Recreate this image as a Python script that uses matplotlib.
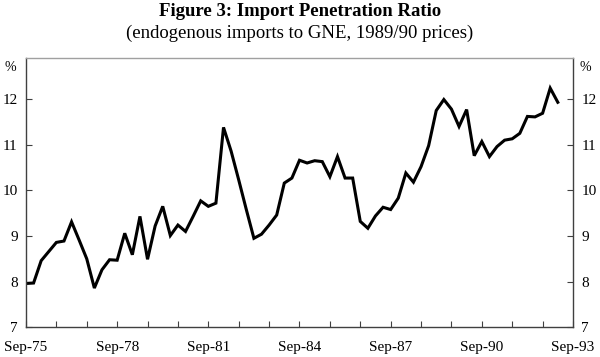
import numpy as np
import matplotlib.pyplot as plt
import matplotlib.ticker as mticker

# quarterly, Sep-75 .. Mar-93
quarters = np.arange(71)
ratio = [7.96, 7.97, 8.46, 8.66, 8.86, 8.89, 9.31, 8.91, 8.50, 7.86,
         8.26, 8.48, 8.47, 9.06, 8.59, 9.43, 8.49, 9.22, 9.65, 9.01,
         9.24, 9.10, 9.43, 9.77, 9.65, 9.72, 11.38, 10.86, 10.23, 9.58,
         8.95, 9.04, 9.24, 9.46, 10.16, 10.27, 10.66, 10.60, 10.65, 10.63,
         10.30, 10.74, 10.27, 10.27, 9.32, 9.17, 9.44, 9.63, 9.58, 9.83,
         10.38, 10.18, 10.52, 10.98, 11.75, 11.99, 11.78, 11.40, 11.77, 10.76,
         11.07, 10.74, 10.96, 11.10, 11.13, 11.25, 11.62, 11.61, 11.69, 12.24,
         11.93]
year_labels = ["Sep-75", "Sep-78", "Sep-81", "Sep-84", "Sep-87", "Sep-90", "Sep-93"]
y_ticks = [7, 8, 9, 10, 11, 12]

plt.rcParams['font.family'] = ['Liberation Serif', 'DejaVu Serif']

fig = plt.figure(figsize=(6, 3.57), dpi=100)
ax = fig.add_axes([0.0433, 0.0832, 0.9117, 0.7543])

ax.plot(quarters, ratio, color='black', linewidth=2.2, solid_joinstyle='miter')

ax.set_xlim(0, 72)
ax.set_ylim(7, 12.9)
ax.xaxis.set_major_locator(mticker.FixedLocator(np.arange(0, 73, 4)))
ax.set_xticklabels([year_labels[i // 3] if i % 3 == 0 else "" for i in range(19)])
ax.set_yticks(y_ticks)
ax.set_yticklabels([str(v) for v in y_ticks])

ax.tick_params(axis='x', direction='in', length=4, width=0.8, color='#404040',
               labelsize=11, pad=10)
ax.tick_params(axis='y', direction='in', length=4, width=0.8, color='#404040',
               labelsize=11, pad=6, left=True, right=True,
               labelleft=True, labelright=True)

for side in ['left', 'right', 'bottom']:
    ax.spines[side].set_color('#404040')
    ax.spines[side].set_linewidth(1.0)
ax.spines['top'].set_color('#a0a0a0')
ax.spines['top'].set_linewidth(1.0)

fig.text(0.017, 0.812, "%", fontsize=10, ha='center', va='center')
fig.text(0.975, 0.812, "%", fontsize=10, ha='center', va='center')

fig.text(0.5, 0.967, "Figure 3: Import Penetration Ratio", fontsize=13.5,
         fontweight='bold', ha='center', va='center')
fig.text(0.5, 0.908, "(endogenous imports to GNE, 1989/90 prices)", fontsize=13.5,
         ha='center', va='center')

fig.savefig("out.png", dpi=100)
